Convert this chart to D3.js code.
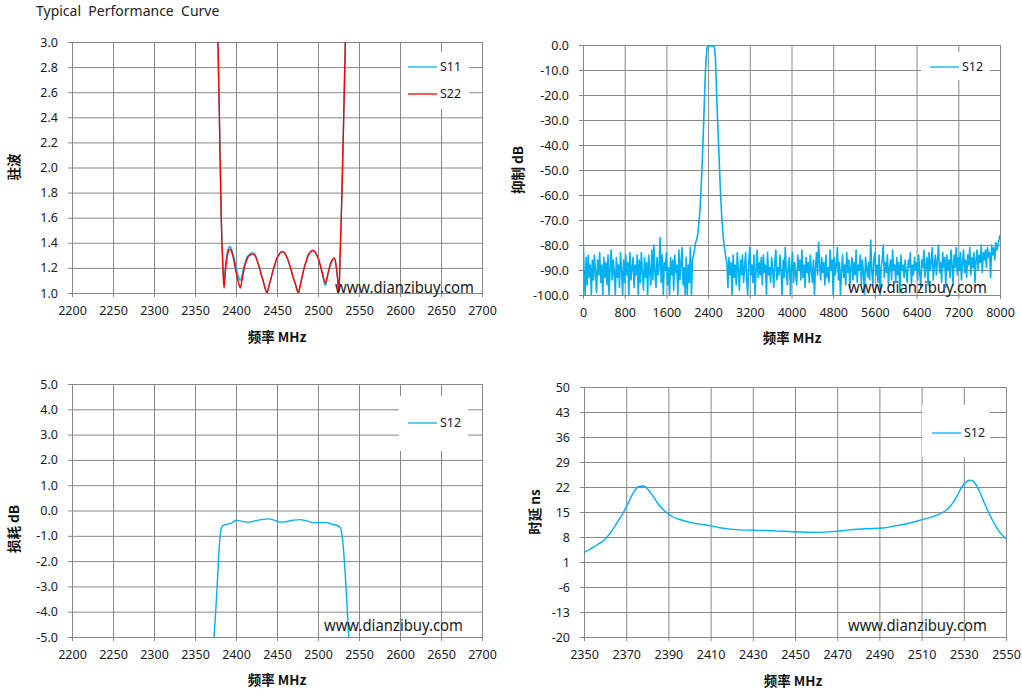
<!DOCTYPE html>
<html><head><meta charset="utf-8">
<script src="https://d3js.org/d3.v7.min.js"></script>
<style>body{margin:0;background:#fff}svg{display:block}</style>
</head><body>
<svg id="c" width="1022" height="696"></svg>
<script>
// ---------- DATA ----------
const chartTitle = "Typical  Performance  Curve";
const watermark = "www.dianzibuy.com";

// Panel 1 : VSWR
const vswrXTicks = [2200,2250,2300,2350,2400,2450,2500,2550,2600,2650,2700];
const vswrYTicks = [1.0,1.2,1.4,1.6,1.8,2.0,2.2,2.4,2.6,2.8,3.0];
const vswrFreq = [2374,2376,2378,2380,2382,2384,2385.4,2387,2389,2391,2392.5,2394,2396,2398,2400,2402,2404,2405.3,2407,2409,2411,2413,2415,2417,2419,2421,2423,2425,2427,2429,2431,2433,2435,2437.8,2440,2442,2444,2446,2448,2450,2452,2454,2456.5,2459,2461,2463,2465,2467,2469,2471,2473,2476,2478,2480,2482,2484,2486,2488,2490,2492,2494,2496,2498,2500,2502,2504,2506,2509,2511,2513,2515,2517,2519.5,2521,2522.5,2524,2525.6,2527,2529,2531,2533,2535];
const s11Vswr = [4.2,3.5,3.0,2.32,1.62,1.22,1.07,1.2,1.31,1.36,1.37,1.36,1.32,1.27,1.21,1.15,1.11,1.10,1.13,1.19,1.24,1.28,1.30,1.31,1.32,1.32,1.31,1.28,1.24,1.2,1.15,1.1,1.05,1.0,1.05,1.10,1.15,1.20,1.24,1.28,1.30,1.32,1.33,1.32,1.30,1.27,1.23,1.19,1.14,1.10,1.06,1.0,1.05,1.11,1.17,1.22,1.26,1.30,1.32,1.335,1.34,1.33,1.31,1.28,1.24,1.19,1.13,1.06,1.11,1.17,1.22,1.25,1.28,1.26,1.20,1.11,1.02,1.3,1.75,2.3,2.9,3.5];
const s22Vswr = [4.2,3.5,3.0,2.3,1.6,1.2,1.04,1.17,1.28,1.34,1.35,1.34,1.30,1.24,1.17,1.11,1.06,1.04,1.09,1.16,1.22,1.26,1.29,1.30,1.31,1.31,1.30,1.27,1.23,1.19,1.14,1.10,1.05,1.0,1.05,1.10,1.15,1.20,1.24,1.28,1.30,1.32,1.33,1.32,1.30,1.27,1.23,1.19,1.14,1.10,1.06,1.0,1.05,1.11,1.17,1.22,1.26,1.30,1.32,1.335,1.34,1.33,1.31,1.28,1.24,1.19,1.14,1.08,1.12,1.18,1.23,1.26,1.28,1.26,1.20,1.11,1.01,1.3,1.75,2.3,2.9,3.5];

// Panel 2 : wideband rejection (0..8000 MHz, one reading every 20 MHz)
const rejXTicks = [0,800,1600,2400,3200,4000,4800,5600,6400,7200,8000];
const rejYTicks = [-100,-90,-80,-70,-60,-50,-40,-30,-20,-10,0];
const rejStartMHz = 0, rejStepMHz = 20;
const rejDb = [
 -75,-90,-100,-85,-96,-84,-93,-88,-100,-86,
 -94,-84,-91,-99,-86,-92,-83,-95,-88,-100,
 -85,-93,-87,-96,-84,-100,-89,-82,-94,-86,
 -91,-100,-85,-93,-88,-97,-83,-90,-100,-86,
 -95,-84,-92,-87,-100,-83,-94,-89,-85,-97,
 -88,-92,-84,-100,-86,-95,-83,-91,-98,-85,
 -93,-87,-100,-84,-90,-96,-82,-94,-80,-91,
 -97,-85,-92,-88,-77,-95,-84,-100,-87,-90,
 -83,-96,-89,-100,-85,-92,-86,-98,-84,-91,
 -88,-100,-82,-94,-87,-81,-96,-89,-100,-85,
 -100,-88,-95,-81,-100,-86,-84,-82,-79,-78,
 -76,-72,-67,-60,-51,-40,-28,-15,-6,-1,
 -0.5,-0.3,-0.4,-0.3,-0.4,-0.5,-0.8,-5,-17,-29,
 -39,-50,-60,-68,-74,-79,-82,-85,-87,-97,
 -85,-92,-87,-100,-84,-93,-88,-96,-83,-90,
 -98,-86,-92,-84,-95,-89,-83,-94,-100,-87,
 -81,-92,-88,-95,-84,-100,-90,-82,-93,-87,
 -92,-85,-96,-84,-91,-88,-100,-83,-92,-89,
 -95,-85,-90,-97,-87,-82,-94,-89,-92,-84,
 -91,-100,-86,-93,-81,-90,-96,-88,-85,-100,
 -89,-83,-95,-87,-92,-96,-84,-90,-86,-94,
 -82,-93,-88,-97,-85,-91,-87,-95,-84,-90,
 -95,-86,-100,-89,-83,-92,-79,-88,-94,-85,
 -91,-87,-96,-84,-93,-89,-95,-82,-90,-86,
 -100,-85,-92,-88,-81,-94,-87,-100,-90,-84,
 -93,-88,-96,-83,-91,-86,-97,-89,-85,-94,
 -87,-92,-82,-95,-88,-90,-84,-96,-86,-91,
 -100,-85,-89,-93,-87,-94,-78,-90,-96,-86,
 -83,-92,-88,-95,-84,-100,-89,-86,-80,-93,
 -87,-91,-84,-96,-89,-86,-94,-82,-90,-88,
 -95,-85,-92,-87,-99,-84,-90,-88,-93,-86,
 -91,-95,-86,-89,-83,-96,-88,-92,-85,-90,
 -87,-94,-84,-91,-97,-86,-89,-82,-93,-88,
 -85,-96,-83,-90,-87,-81,-94,-88,-84,-92,
 -86,-80,-91,-87,-95,-83,-89,-85,-97,-84,
 -90,-86,-93,-82,-88,-96,-84,-89,-81,-92,
 -85,-90,-83,-94,-87,-82,-91,-86,-93,-84,
 -88,-81,-92,-85,-89,-83,-95,-86,-82,-90,
 -84,-87,-80,-91,-83,-86,-82,-89,-81,-85,
 -83,-93,-80,-84,-81,-86,-79,-82,-80,-78,
 -76
];

// Panel 3 : insertion loss
const ilXTicks = [2200,2250,2300,2350,2400,2450,2500,2550,2600,2650,2700];
const ilYTicks = [-5,-4,-3,-2,-1,0,1,2,3,4,5];
const ilFreq = [2372,2373.5,2375,2376.3,2377.5,2378.7,2380,2381.2,2382.4,2383.6,2386,2388.5,2392.6,2396.7,2400.7,2404.8,2410.9,2417,2423,2431,2439,2445.5,2453.7,2459.8,2470,2478,2486,2494.4,2502.5,2510.7,2516.8,2522.9,2527,2529,2531,2533,2535,2537.1,2539];
const ilDb = [-6.5,-4.9,-4.1,-3.4,-2.7,-1.95,-1.25,-0.85,-0.68,-0.6,-0.57,-0.55,-0.52,-0.45,-0.38,-0.41,-0.45,-0.46,-0.41,-0.36,-0.33,-0.37,-0.46,-0.45,-0.38,-0.36,-0.41,-0.48,-0.48,-0.48,-0.54,-0.59,-0.67,-0.9,-1.5,-2.4,-3.5,-4.8,-6.0];

// Panel 4 : group delay
const gdXTicks = [2350,2370,2390,2410,2430,2450,2470,2490,2510,2530,2550];
const gdYTicks = [-20,-13,-6,1,8,15,22,29,36,43,50];
const gdFreq = [2350,2352.7,2355.9,2359,2362.2,2365.3,2368.5,2370.9,2373.3,2375.6,2378,2380.4,2382.8,2385.1,2387.5,2389.9,2392.2,2395.4,2400.2,2404.9,2409.7,2414.4,2419.1,2423.9,2430.2,2436.5,2444.5,2452.4,2460.3,2468.2,2476.1,2484,2491.9,2496.7,2503,2509.3,2515.7,2520.4,2523.6,2526.7,2529.1,2531.5,2533.1,2534.7,2537,2539.4,2542.6,2545.7,2548.1,2550];
const gdNs = [3.7,4.5,5.7,6.9,8.9,11.7,14.7,17.5,20.3,22.0,22.3,21.3,19.4,17.3,15.7,14.5,13.6,12.9,12.1,11.6,11.2,10.6,10.2,10.0,9.9,9.8,9.6,9.4,9.3,9.5,10.0,10.3,10.5,11.0,11.7,12.7,13.8,15.0,16.6,19.4,22.0,23.6,23.9,23.5,21.3,18.0,13.8,10.5,8.6,7.5];

// ---------- DRAW ----------
const GRID = "#878787", CYAN = "#00B0F0", RED = "#FF0000";
const TXT = "#1a1a1a";
const FONT = "'Noto Sans', 'Open Sans', sans-serif";
const CJK = "'Noto Sans CJK SC', sans-serif";
const svg = d3.select("#c");
svg.append("rect").attr("width",1022).attr("height",696).attr("fill","#fff");

svg.append("text").attr("x",36).attr("y",16).attr("font-family",FONT).attr("font-size",14)
  .attr("fill","#222").attr("xml:space","preserve").style("white-space","pre").text(chartTitle);

let clipId = 0;
function panel(c){
  const x = d3.scaleLinear().domain(c.xd).range([c.l,c.r]);
  const y = d3.scaleLinear().domain(c.yd).range([c.b,c.t]);
  const g = svg.append("g");
  const w = c.r - c.l, h = c.b - c.t;
  g.append("g").attr("transform",`translate(0,${c.b})`)
    .call(d3.axisBottom(x).tickValues(c.xt).tickSize(-h).tickSizeOuter(0).tickFormat(""))
    .call(s=>{s.select(".domain").remove(); s.selectAll("line").attr("stroke",GRID);});
  g.append("g").attr("transform",`translate(${c.l},0)`)
    .call(d3.axisLeft(y).tickValues(c.yt).tickSize(-w).tickSizeOuter(0).tickFormat(""))
    .call(s=>{s.select(".domain").remove(); s.selectAll("line").attr("stroke",GRID);});
  g.append("g").attr("transform",`translate(${c.l},0)`)
    .call(d3.axisLeft(y).tickValues(c.yt).tickSize(4).tickSizeOuter(0).tickPadding(10).tickFormat(c.yf))
    .call(s=>{s.select(".domain").attr("stroke",GRID); s.selectAll("line").attr("stroke",GRID);
      s.selectAll("text").attr("font-family",FONT).attr("font-size",12.5).attr("fill",TXT);});
  g.append("g").attr("transform",`translate(0,${c.b})`)
    .call(d3.axisBottom(x).tickValues(c.xt).tickSize(4).tickSizeOuter(0).tickPadding(9).tickFormat(d=>String(d)))
    .call(s=>{s.select(".domain").attr("stroke",GRID); s.selectAll("line").attr("stroke",GRID);
      s.selectAll("text").attr("font-family",FONT).attr("font-size",12.5).attr("fill",TXT);});
  g.append("line").attr("x1",Math.round(c.r)+0.5).attr("x2",Math.round(c.r)+0.5).attr("y1",c.t).attr("y2",c.b).attr("stroke",GRID);
  const id = "clip"+(clipId++);
  svg.append("clipPath").attr("id",id).append("rect").attr("x",c.l).attr("y",c.t).attr("width",w).attr("height",h);
  const line = d3.line().x(d=>x(d[0])).y(d=>y(d[1])).curve(c.curve || d3.curveMonotoneX);
  c.series.forEach(s=>{
    g.append("path").datum(s.xs.map((f,i)=>[f,s.ys[i]])).attr("clip-path",`url(#${id})`)
      .attr("d",line).attr("fill","none").attr("stroke",s.color).attr("stroke-width",s.width||1.4)
      .attr("stroke-linejoin","round");
  });
  g.append("text").attr("x",c.wm[0]).attr("y",c.wm[1]).attr("font-family",FONT).attr("font-size",16)
    .attr("fill",TXT).attr("textLength",139).attr("lengthAdjust","spacingAndGlyphs").text(watermark);
  const L = c.leg;
  g.append("rect").attr("x",L.x).attr("y",L.y).attr("width",L.w).attr("height",L.h).attr("fill","#fff");
  c.series.forEach((s,i)=>{
    const yy = L.ly + i*L.dy;
    g.append("line").attr("x1",L.lx).attr("x2",L.lx+29).attr("y1",yy).attr("y2",yy).attr("stroke",s.color).attr("stroke-width",1.3);
    g.append("text").attr("x",L.lx+32).attr("y",yy).attr("dy","0.35em").attr("font-family",FONT).attr("font-size",12.5)
      .attr("fill",TXT).text(s.name);
  });
  g.append("text").attr("x",c.xtPos[0]).attr("y",c.xtPos[1]).attr("text-anchor","middle").attr("dy","0.35em")
    .attr("font-family",CJK).attr("font-weight","bold").attr("font-size",13.5).attr("fill","#111").text(c.xTitle);
  g.append("text").attr("transform",`translate(${c.ytPos[0]},${c.ytPos[1]}) rotate(-90)`).attr("text-anchor","middle").attr("dy","0.35em")
    .attr("font-family",CJK).attr("font-weight","bold").attr("font-size",13.5).attr("fill","#111").text(c.yTitle);
}

const f1 = d=>d.toFixed(1);
const rejFreq = rejDb.map((_,i)=>rejStartMHz + i*rejStepMHz);

panel({l:72,r:482,t:42,b:293,xd:[2200,2700],yd:[1,3],xt:vswrXTicks,yt:vswrYTicks,yf:f1,
  wm:[335,293],xTitle:"频率 MHz",yTitle:"驻波",xtPos:[277,337],ytPos:[14,167],
  leg:{x:401,y:52,w:68,h:57,lx:408,ly:67,dy:27},
  series:[{name:"S11",xs:vswrFreq,ys:s11Vswr,color:CYAN},{name:"S22",xs:vswrFreq,ys:s22Vswr,color:RED}]});

panel({l:583,r:1000,t:45,b:295,xd:[0,8000],yd:[-100,0],xt:rejXTicks,yt:rejYTicks,yf:f1,
  wm:[848,293],xTitle:"频率 MHz",yTitle:"抑制 dB",xtPos:[792,338],ytPos:[518,170],
  leg:{x:921,y:52,w:69,h:28,lx:930,ly:67,dy:27},curve:d3.curveLinear,
  series:[{name:"S12",xs:rejFreq,ys:rejDb,color:CYAN,width:1.6}]});

panel({l:72,r:482,t:384,b:637,xd:[2200,2700],yd:[-5,5],xt:ilXTicks,yt:ilYTicks,yf:f1,
  wm:[324,631],xTitle:"频率 MHz",yTitle:"损耗 dB",xtPos:[277,680],ytPos:[14,529],
  leg:{x:399,y:396,w:69,h:55,lx:408,ly:423,dy:27},
  series:[{name:"S12",xs:ilFreq,ys:ilDb,color:CYAN}]});

panel({l:584,r:1006,t:387,b:637,xd:[2350,2550],yd:[-20,50],xt:gdXTicks,yt:gdYTicks,yf:d=>String(d),
  wm:[848,631],xTitle:"频率 MHz",yTitle:"时延 ns",xtPos:[793,681],ytPos:[535,512],
  leg:{x:922,y:405,w:68,h:52,lx:932,ly:433,dy:27},
  series:[{name:"S12",xs:gdFreq,ys:gdNs,color:CYAN}]});
</script>
</body></html>
